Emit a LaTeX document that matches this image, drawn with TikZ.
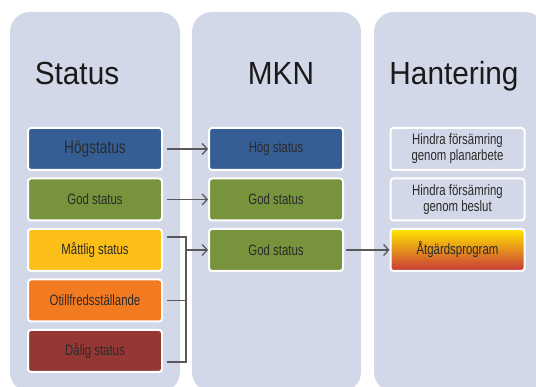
\documentclass[tikz,border=0pt]{standalone}
\usepackage{fontspec}
\newfontfamily\boxfont[FakeStretch=0.76]{Liberation Sans}
\newfontfamily\titlefont[FakeStretch=0.93]{Liberation Sans}
\usetikzlibrary{arrows.meta}
\definecolor{panelbg}{HTML}{D3D8E8}
\definecolor{hogblue}{HTML}{345E94}
\definecolor{godgreen}{HTML}{77933C}
\definecolor{mattyellow}{HTML}{FBBF17}
\definecolor{otiorange}{HTML}{F27B21}
\definecolor{daligred}{HTML}{953735}
\definecolor{atgyellow}{HTML}{FFE600}
\definecolor{atgorange}{HTML}{E5862C}
\definecolor{atgred}{HTML}{C8373A}
\definecolor{boxtext}{HTML}{2B2B2B}
\definecolor{headtext}{HTML}{1A1A1A}
\definecolor{linkgray}{HTML}{595959}

\begin{document}
\begin{tikzpicture}[x=1pt, y=1pt,
    panel/.style={fill=panelbg, rounded corners=20pt},
    heading/.style={anchor=base, text=headtext, font=\titlefont\fontsize{32}{34}\selectfont},
    box/.style={draw=white, line width=2pt, rounded corners=3pt, minimum width=134pt,
        minimum height=42pt, inner sep=0pt, align=center, text=boxtext,
        font=\boxfont\fontsize{15}{16}\selectfont},
    link/.style={draw=linkgray, line width=1.3pt},
    arrow/.style={link, -{Straight Barb[length=5pt, width=11pt]}}
]
    \useasboundingbox (0,0) rectangle (536,387);

    \fill[panel] (10,-5) rectangle (180,375);
    \fill[panel] (192,-5) rectangle (361,375);
    \fill[panel] (374,-5) rectangle (545,375);

    \node[heading] (tstatus) at (77,302) {Status};
    \node[heading] (tmkn) at (281,302) {MKN};
    \node[heading] (thant) at (454,302) {Hantering};

    \node[box, fill=hogblue, font=\boxfont\fontsize{18}{20}\selectfont] (s1) at (95,238) {Högstatus};
    \node[box, fill=godgreen] (s2) at (95,187.5) {God status};
    \node[box, fill=mattyellow] (s3) at (95,137) {Måttlig status};
    \node[box, fill=otiorange] (s4) at (95,86.5) {Otillfredsställande};
    \node[box, fill=daligred] (s5) at (95,36) {Dålig status};

    \node[box, fill=hogblue] (m1) at (276,238) {Hög status};
    \node[box, fill=godgreen] (m2) at (276,187.5) {God status};
    \node[box, fill=godgreen] (m3) at (276,137) {God status};

    \node[box, fill=panelbg] (h1) at (457.5,238) {Hindra försämring\\genom planarbete};
    \node[box, fill=panelbg] (h2) at (457.5,187.5) {Hindra försämring\\genom beslut};
    \node[box, top color=atgyellow, middle color=atgorange, bottom color=atgred] (h3) at (457.5,137) {Åtgärdsprogram};

    \coordinate (top) at (186,150);
    \coordinate (bot) at (186,25);

    \draw[arrow, shorten <=4pt] (s1) -- (m1);
    \draw[arrow, shorten <=4pt] (s2) -- (m2);
    \draw[link, shorten <=4pt, shorten >=4pt] (s3.east |- top) -- (top) -- (bot) -- (s5.east |- bot);
    \draw[link, shorten <=4pt] (s4.east) -- (s4.east -| top);
    \draw[arrow] (top |- m3.west) -- (m3.west);
    \draw[arrow, shorten <=2pt] (m3) -- (h3);
\end{tikzpicture}
\end{document}
